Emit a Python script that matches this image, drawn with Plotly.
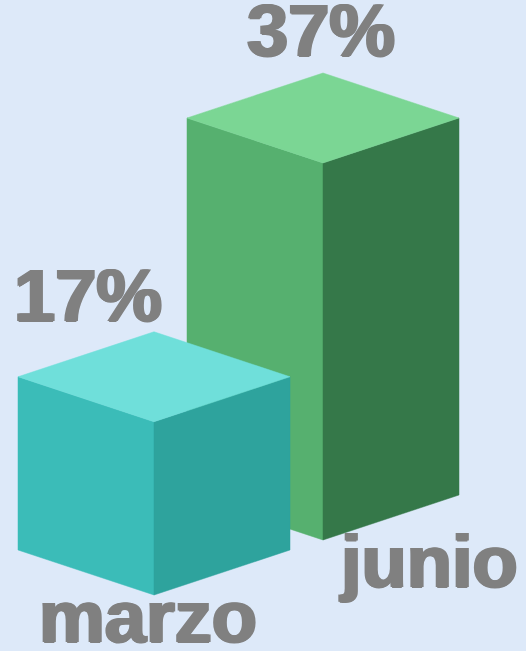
import plotly.graph_objects as go

# ---- data ----
categories = ["marzo", "junio"]
values = [17, 37]
value_labels = ["17%", "37%"]

# ---- style / geometry ----
W, H = 526, 651
BG = "#dde9f9"
TEXT_COLOR = "#808080"
PX_PER_PCT = 10.19
HALF_W = 136
HALF_D = 45
front_x = [154, 323]       # x of front vertical edge
front_y = [595, 540]       # y of bottom of front edge
face_colors = [
    {"top": "#6fdfda", "left": "#3bbcb8", "right": "#2ea39d"},
    {"top": "#7bd694", "left": "#56b06f", "right": "#357849"},
]
value_offsets = [(-66, -8), (-2, -14)]   # (dx, dy from top apex) for value label baseline
cat_offsets = [(-6, 50), (105, 50)]      # (dx, dy from bottom front corner) for category baseline
FONT_SIZE = 74
ASCENT = 72

fig = go.Figure()

def poly(xs, ys, color):
    fig.add_trace(go.Scatter(
        x=xs + [xs[0]], y=ys + [ys[0]], fill="toself", fillcolor=color,
        mode="lines", line=dict(width=0.5, color=color), hoverinfo="skip",
        showlegend=False))

def to_paper(y_px):
    return 1 - y_px / H

def to_paper_x(x_px):
    return x_px / W

# draw back bar first (junio), then front (marzo)
order = sorted(range(len(categories)), key=lambda i: front_y[i])
annotations = []
for i in order:
    h = values[i] * PX_PER_PCT
    cx, by = front_x[i], front_y[i]
    ty = by - h
    c = face_colors[i]
    # left face
    poly([cx - HALF_W, cx, cx, cx - HALF_W],
         [ty - HALF_D, ty, by, by - HALF_D], c["left"])
    # right face
    poly([cx, cx + HALF_W, cx + HALF_W, cx],
         [ty, ty - HALF_D, by - HALF_D, by], c["right"])
    # top face
    poly([cx - HALF_W, cx, cx + HALF_W, cx],
         [ty - HALF_D, ty - 2 * HALF_D, ty - HALF_D, ty], c["top"])

font = dict(family="Liberation Sans, Arial", size=FONT_SIZE, color=TEXT_COLOR, weight=700,
            shadow="1.5px 0 0 #808080, -1.5px 0 0 #808080, 0 0.5px 0 #808080")
for i in range(len(categories)):
    h = values[i] * PX_PER_PCT
    cx, by = front_x[i], front_y[i]
    apex_y = by - h - 2 * HALF_D
    dx, dy = value_offsets[i]
    annotations.append(dict(
        x=to_paper_x(cx + dx), y=to_paper(apex_y + dy - ASCENT), xref="paper", yref="paper",
        text=value_labels[i], showarrow=False, xanchor="center", yanchor="top",
        font=font))
    dx, dy = cat_offsets[i]
    annotations.append(dict(
        x=to_paper_x(cx + dx), y=to_paper(by + dy - ASCENT), xref="paper", yref="paper",
        text=categories[i], showarrow=False, xanchor="center", yanchor="top",
        font=font))

fig.update_layout(
    width=W, height=H, margin=dict(l=0, r=0, t=0, b=0),
    paper_bgcolor=BG, plot_bgcolor=BG,
    xaxis=dict(range=[0, W], visible=False, fixedrange=True),
    yaxis=dict(range=[H, 0], visible=False, fixedrange=True),
    annotations=annotations,
)
fig.write_html(
    "out.html",
    config={"displayModeBar": False},
    post_script="document.body.style.margin='0';document.body.style.background='" + BG + "';",
)
